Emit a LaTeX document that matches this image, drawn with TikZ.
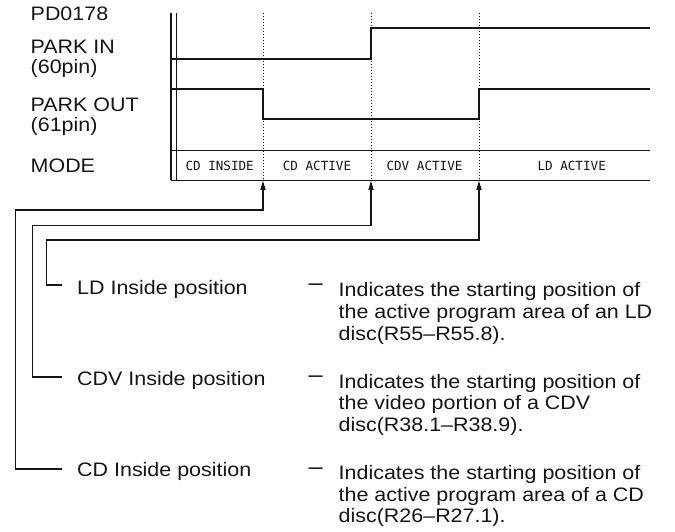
\documentclass[tikz,border=0pt]{standalone}
\usepackage{fontspec}
\setmainfont[FakeStretch=1.1]{Liberation Sans}
\newfontfamily\modefont{DejaVu Sans Mono}
\usetikzlibrary{arrows.meta}
\definecolor{ink}{HTML}{151515}
\begin{document}
\begin{tikzpicture}[x=1pt,y=-1pt,
  lbl/.style={anchor=base west, inner sep=0, align=left, text=ink,
    font=\fontsize{19.5}{19.5}\selectfont},
  desc/.style={anchor=base west, inner sep=0, align=left, text=ink,
    font=\fontsize{19.5}{21.7}\selectfont},
  dashtxt/.style={anchor=base west, inner sep=0, text=ink,
    font=\fontsize{23}{24}\selectfont},
  modetxt/.style={inner sep=0, text=ink, font=\modefont\fontsize{12.6}{14}\selectfont},
  sig/.style={line width=1.9pt, draw=ink},
  frame/.style={line width=1.4pt, draw=ink},
  marker/.style={line width=0.9pt, draw=ink, dash pattern=on 1pt off 2pt},
  conn/.style={line width=1.3pt, draw=ink, -{Triangle[length=9pt,width=5pt]}}
]
\useasboundingbox (0,0) rectangle (675,532);

% left labels (base anchor = baseline of last line)
\node[lbl] (pd) at (30.5,20.7) {PD0178};
\node[lbl] (pin) at (30.5,73.5) {PARK IN\\(60pin)};
\node[lbl] (pout) at (30.5,131.2) {PARK OUT\\(61pin)};
\node[lbl] (mode) at (30.5,172.7) {MODE};

% frame
\draw[frame] (171,12.7) -- (171,180.5);
\draw[frame] (176.7,12.7) -- (176.7,180.5);
\draw[sig] (171,150.5) -- (650,150.5);
\draw[sig] (171,180.5) -- (650,180.5);

% transition markers
\draw[marker] (263,13) -- (263,180);
\draw[marker] (371,13) -- (371,180);
\draw[marker] (479,13) -- (479,180);

% signals
\draw[sig] (171,59.3) -- (371,59.3) -- (371,28.3) -- (650,28.3);
\draw[sig] (171,89.3) -- (263,89.3) -- (263,119.3) -- (479,119.3) -- (479,89.3) -- (650,89.3);

% mode texts
\node[modetxt] (m1) at (219.7,165.5) {CD INSIDE};
\node[modetxt] (m2) at (317,165.5) {CD ACTIVE};
\node[modetxt] (m3) at (424.5,165.5) {CDV ACTIVE};
\node[modetxt] (m4) at (571.7,165.5) {LD ACTIVE};

% arrow targets
\coordinate (tCD) at (263,180.8);
\coordinate (tCDV) at (371,180.8);
\coordinate (tLD) at (479,180.8);

% position labels
\node[lbl] (lLD) at (77,294) {LD Inside position};
\node[lbl] (lCDV) at (77,385) {CDV Inside position};
\node[lbl] (lCD) at (77,476.7) {CD Inside position};

\coordinate (eLD) at (61.7,285);
\coordinate (eCDV) at (61.7,377);
\coordinate (eCD) at (61.7,469);

\draw[conn] (eLD) -| (46.7,240) -| (tLD);
\draw[conn] (eCDV) -| (32.3,225.3) -| (tCDV);
\draw[conn] (eCD) -| (15.7,210) -| (tCD);

% dashes
\node[dashtxt] (d1) at (308.5,290.9) {–};
\node[dashtxt] (d2) at (308.5,382.5) {–};
\node[dashtxt] (d3) at (308.5,474.2) {–};

% descriptions
\node[desc] (tx1) at (338.5,340.1) {Indicates the starting position of\\the active program area of an LD\\disc(R55–R55.8).};
\node[desc] (tx2) at (338.5,431.4) {Indicates the starting position of\\the video portion of a CDV\\disc(R38.1–R38.9).};
\node[desc] (tx3) at (338.5,522.7) {Indicates the starting position of\\the active program area of a CD\\disc(R26–R27.1).};
\end{tikzpicture}
\end{document}
